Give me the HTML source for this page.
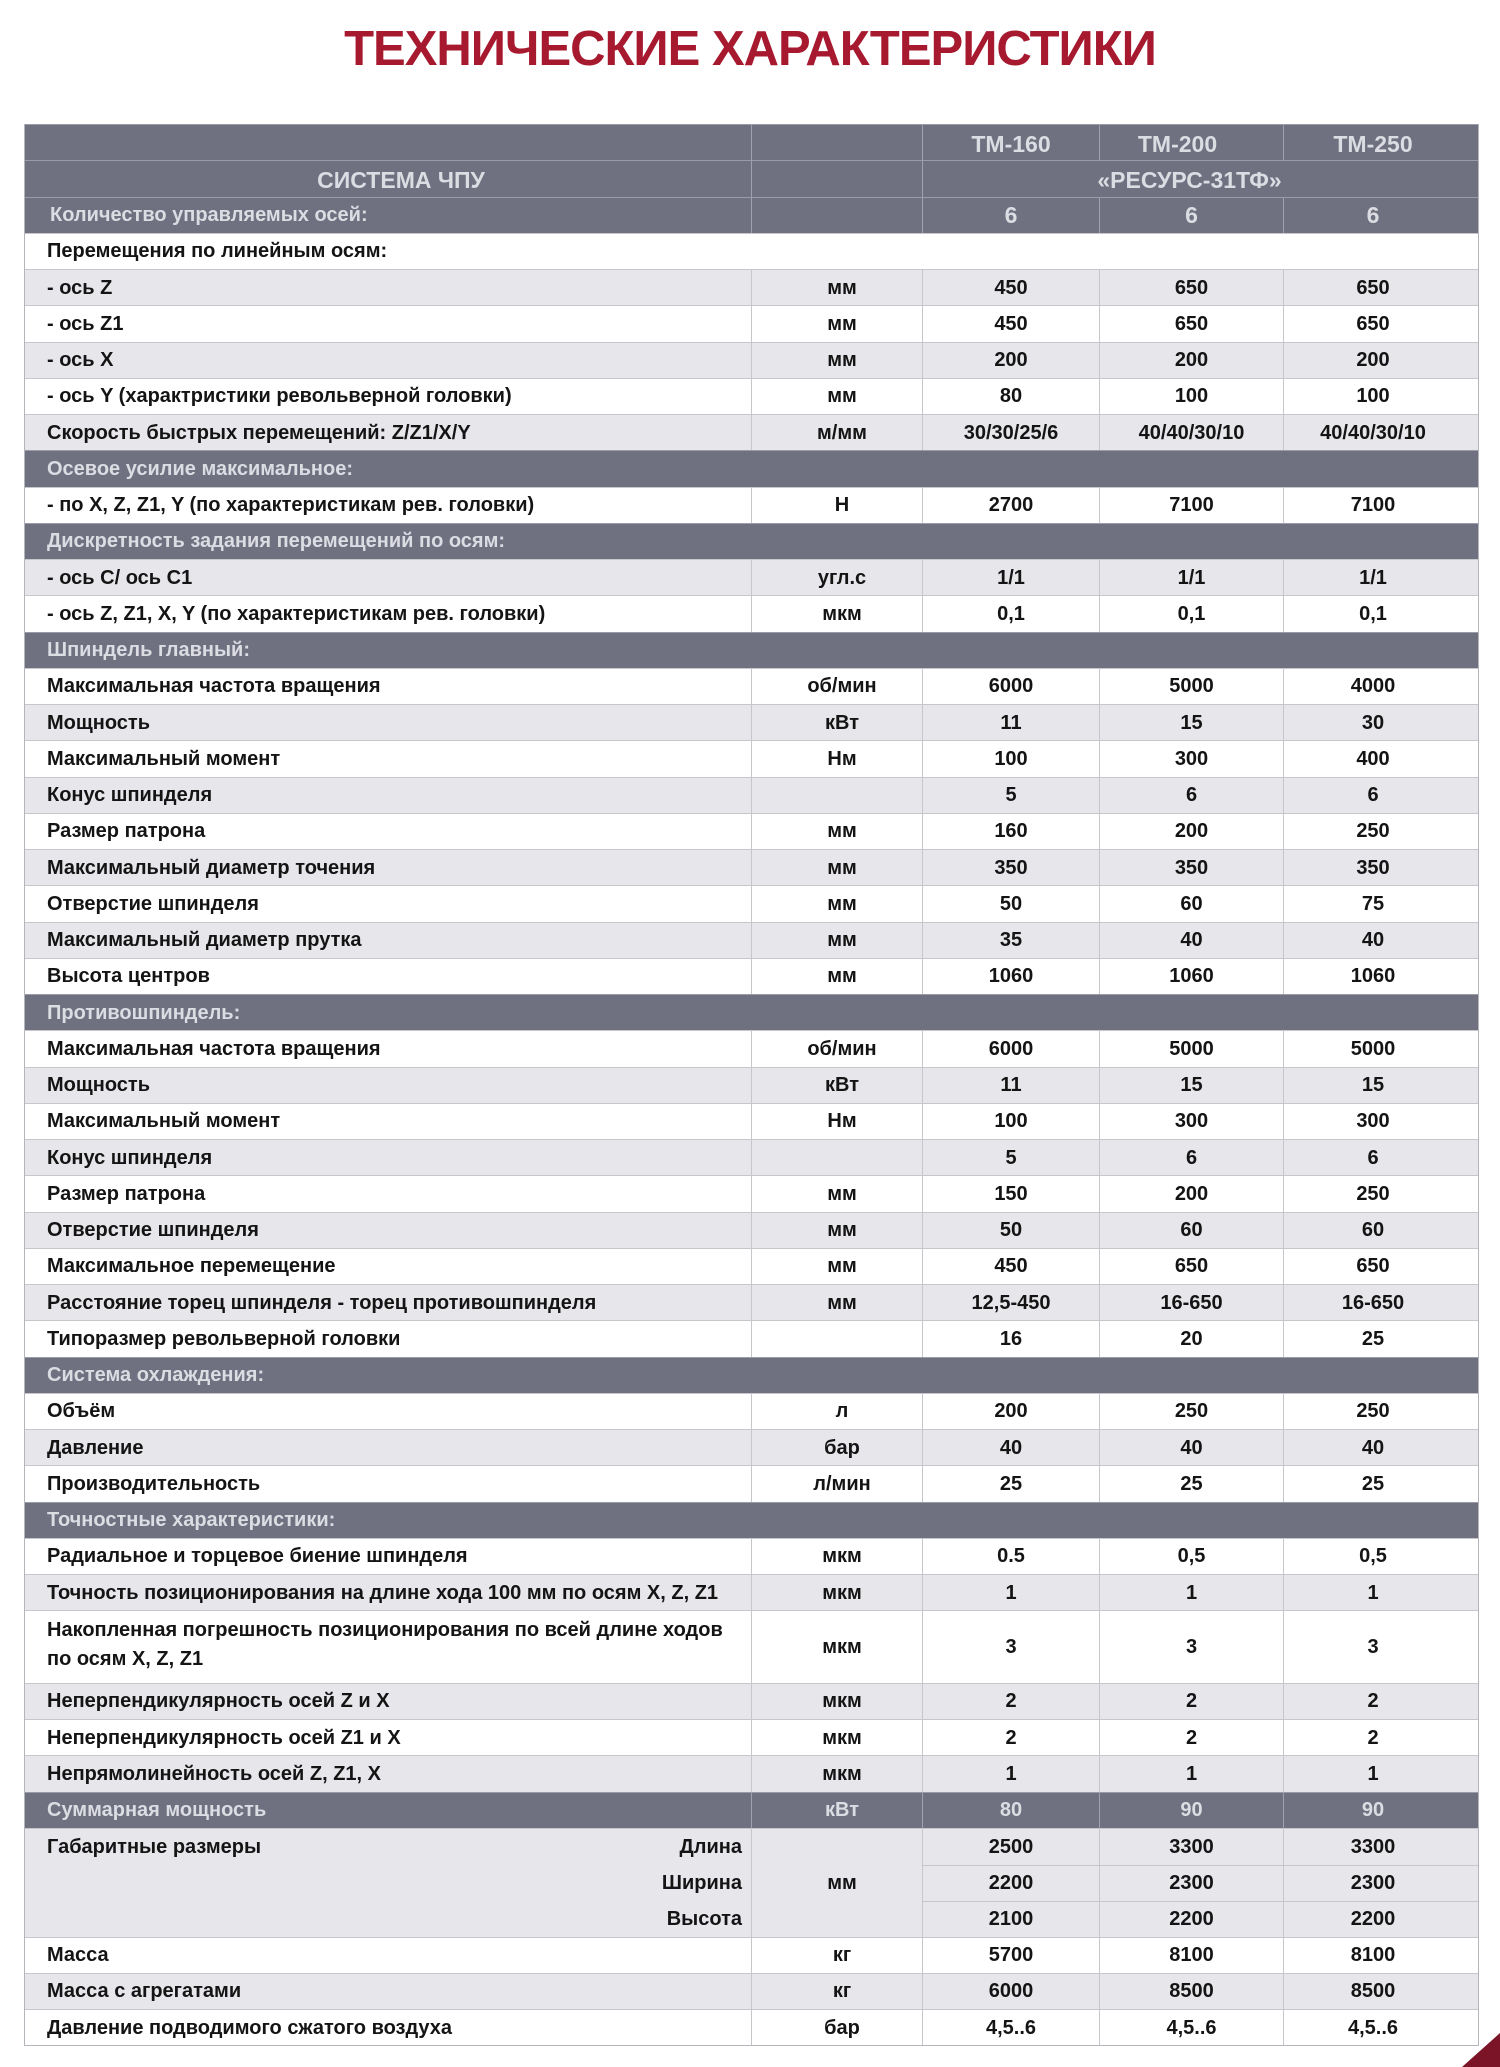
<!DOCTYPE html>
<html>
<head>
<meta charset="utf-8">
<style>
html,body{margin:0;padding:0;}
body{width:1500px;height:2067px;background:#fff;position:relative;overflow:hidden;font-family:"Liberation Sans",Arial,sans-serif;font-weight:bold;}
.title{position:absolute;top:25px;left:0;width:1500px;text-align:center;font-size:49px;line-height:49px;color:#a6192e;letter-spacing:-1px;white-space:nowrap;}
.tbl{position:absolute;left:24px;top:124px;width:1455px;box-sizing:border-box;border-left:1px solid #b4b4ba;border-right:1px solid #b4b4ba;border-bottom:1px solid #b4b4ba;}
.r{display:grid;grid-template-columns:726px 171px 177px 184px 195px;height:36.26px;box-sizing:border-box;border-top:1px solid #c6c6cb;font-size:20px;color:#141414;}
.r>div{display:flex;align-items:center;justify-content:center;padding-top:1px;box-sizing:border-box;white-space:nowrap;min-width:0;}
.r>div+div{border-left:1px solid #c6c6cb;}
.r>div:first-child{justify-content:flex-start;padding-left:22px;}
.r>div.u{padding-left:10px;}
.r>div.c5{padding-right:16px;}
.w{background:#fff;}
.g{background:#e7e7eb;}
.d{background:#6f7181;color:#dcdce3;border-top-color:#9a9caa;}
.d>div+div{border-left-color:#9fa1ae;}
.s{height:36.26px;box-sizing:border-box;border-top:1px solid #9a9caa;background:#6f7181;color:#dcdce3;font-size:20px;display:flex;align-items:center;padding-left:22px;padding-top:1px;white-space:nowrap;}
.fw{height:36.26px;box-sizing:border-box;border-top:1px solid #c6c6cb;background:#fff;color:#141414;font-size:20px;display:flex;align-items:center;padding-left:22px;padding-top:1px;white-space:nowrap;}
.h{font-size:23px;}
.h>div{padding-top:4px;}
.r2{height:72.52px;}
.r2>div.txt{display:block;white-space:nowrap;line-height:29px;padding-top:5px;}
.r3{height:108.78px;}
.r3>div.sub{display:grid;grid-template-rows:1fr 1fr 1fr;padding:0;align-items:stretch;justify-content:stretch;}
.r3>div.sub>div{display:flex;align-items:center;justify-content:center;padding-top:1px;}
.r3>div.sub>div+div{border-top:1px solid #c6c6cb;}
.r3>div.sub.c5>div{padding-right:16px;}
.r3>div.lab{display:grid;grid-template-rows:1fr 1fr 1fr;padding:0 9px 0 22px;align-items:stretch;justify-content:stretch;}
.r3>div.lab>div{display:flex;align-items:center;justify-content:space-between;padding-top:1px;}
.tri{position:absolute;left:0;top:0;}
</style>
</head>
<body>
<div class="title">ТЕХНИЧЕСКИЕ ХАРАКТЕРИСТИКИ</div>

<div class="tbl">
  <div class="r d h"><div></div><div class="u"></div><div>ТМ-160</div><div style="padding-right:28px">ТМ-200</div><div class="c5">ТМ-250</div></div>
  <div class="r d h"><div style="justify-content:center;padding-left:26px">СИСТЕМА ЧПУ</div><div class="u"></div><div style="grid-column:3 / 6;padding-right:22px">«РЕСУРС-31ТФ»</div></div>
  <div class="r d"><div style="padding-left:25px">Количество управляемых осей:</div><div class="u"></div><div style="font-size:23px">6</div><div style="font-size:23px">6</div><div class="c5" style="font-size:23px">6</div></div>
  <div class="fw">Перемещения по линейным осям:</div>
  <div class="r g"><div>- ось Z</div><div class="u">мм</div><div>450</div><div>650</div><div class="c5">650</div></div>
  <div class="r w"><div>- ось Z1</div><div class="u">мм</div><div>450</div><div>650</div><div class="c5">650</div></div>
  <div class="r g"><div>- ось X</div><div class="u">мм</div><div>200</div><div>200</div><div class="c5">200</div></div>
  <div class="r w"><div>- ось Y (характристики револьверной головки)</div><div class="u">мм</div><div>80</div><div>100</div><div class="c5">100</div></div>
  <div class="r g"><div>Скорость быстрых перемещений: Z/Z1/X/Y</div><div class="u">м/мм</div><div>30/30/25/6</div><div>40/40/30/10</div><div class="c5">40/40/30/10</div></div>
  <div class="s">Осевое усилие максимальное:</div>
  <div class="r w"><div>- по X, Z, Z1, Y (по характеристикам рев. головки)</div><div class="u">Н</div><div>2700</div><div>7100</div><div class="c5">7100</div></div>
  <div class="s">Дискретность задания перемещений по осям:</div>
  <div class="r g"><div>- ось С/ ось С1</div><div class="u">угл.с</div><div>1/1</div><div>1/1</div><div class="c5">1/1</div></div>
  <div class="r w"><div>- ось Z, Z1, X, Y (по характеристикам рев. головки)</div><div class="u">мкм</div><div>0,1</div><div>0,1</div><div class="c5">0,1</div></div>
  <div class="s">Шпиндель главный:</div>
  <div class="r w"><div>Максимальная частота вращения</div><div class="u">об/мин</div><div>6000</div><div>5000</div><div class="c5">4000</div></div>
  <div class="r g"><div>Мощность</div><div class="u">кВт</div><div>11</div><div>15</div><div class="c5">30</div></div>
  <div class="r w"><div>Максимальный момент</div><div class="u">Нм</div><div>100</div><div>300</div><div class="c5">400</div></div>
  <div class="r g"><div>Конус шпинделя</div><div class="u"></div><div>5</div><div>6</div><div class="c5">6</div></div>
  <div class="r w"><div>Размер патрона</div><div class="u">мм</div><div>160</div><div>200</div><div class="c5">250</div></div>
  <div class="r g"><div>Максимальный диаметр точения</div><div class="u">мм</div><div>350</div><div>350</div><div class="c5">350</div></div>
  <div class="r w"><div>Отверстие шпинделя</div><div class="u">мм</div><div>50</div><div>60</div><div class="c5">75</div></div>
  <div class="r g"><div>Максимальный диаметр прутка</div><div class="u">мм</div><div>35</div><div>40</div><div class="c5">40</div></div>
  <div class="r w"><div>Высота центров</div><div class="u">мм</div><div>1060</div><div>1060</div><div class="c5">1060</div></div>
  <div class="s">Противошпиндель:</div>
  <div class="r w"><div>Максимальная частота вращения</div><div class="u">об/мин</div><div>6000</div><div>5000</div><div class="c5">5000</div></div>
  <div class="r g"><div>Мощность</div><div class="u">кВт</div><div>11</div><div>15</div><div class="c5">15</div></div>
  <div class="r w"><div>Максимальный момент</div><div class="u">Нм</div><div>100</div><div>300</div><div class="c5">300</div></div>
  <div class="r g"><div>Конус шпинделя</div><div class="u"></div><div>5</div><div>6</div><div class="c5">6</div></div>
  <div class="r w"><div>Размер патрона</div><div class="u">мм</div><div>150</div><div>200</div><div class="c5">250</div></div>
  <div class="r g"><div>Отверстие шпинделя</div><div class="u">мм</div><div>50</div><div>60</div><div class="c5">60</div></div>
  <div class="r w"><div>Максимальное перемещение</div><div class="u">мм</div><div>450</div><div>650</div><div class="c5">650</div></div>
  <div class="r g"><div>Расстояние торец шпинделя - торец противошпинделя</div><div class="u">мм</div><div>12,5-450</div><div>16-650</div><div class="c5">16-650</div></div>
  <div class="r w"><div>Типоразмер револьверной головки</div><div class="u"></div><div>16</div><div>20</div><div class="c5">25</div></div>
  <div class="s">Система охлаждения:</div>
  <div class="r w"><div>Объём</div><div class="u">л</div><div>200</div><div>250</div><div class="c5">250</div></div>
  <div class="r g"><div>Давление</div><div class="u">бар</div><div>40</div><div>40</div><div class="c5">40</div></div>
  <div class="r w"><div>Производительность</div><div class="u">л/мин</div><div>25</div><div>25</div><div class="c5">25</div></div>
  <div class="s">Точностные характеристики:</div>
  <div class="r w"><div>Радиальное и торцевое биение шпинделя</div><div class="u">мкм</div><div>0.5</div><div>0,5</div><div class="c5">0,5</div></div>
  <div class="r g"><div>Точность позиционирования на длине хода 100 мм по осям X, Z, Z1</div><div class="u">мкм</div><div>1</div><div>1</div><div class="c5">1</div></div>
  <div class="r w r2"><div class="txt">Накопленная погрешность позиционирования по всей длине ходов<br>по осям X, Z, Z1</div><div class="u">мкм</div><div>3</div><div>3</div><div class="c5">3</div></div>
  <div class="r g"><div>Неперпендикулярность осей Z и X</div><div class="u">мкм</div><div>2</div><div>2</div><div class="c5">2</div></div>
  <div class="r w"><div>Неперпендикулярность осей Z1 и X</div><div class="u">мкм</div><div>2</div><div>2</div><div class="c5">2</div></div>
  <div class="r g"><div>Непрямолинейность осей Z, Z1, X</div><div class="u">мкм</div><div>1</div><div>1</div><div class="c5">1</div></div>
  <div class="r d"><div>Суммарная мощность</div><div class="u">кВт</div><div>80</div><div>90</div><div class="c5">90</div></div>
  <div class="r g r3">
    <div class="lab"><div><span>Габаритные размеры</span><span>Длина</span></div><div><span></span><span>Ширина</span></div><div><span></span><span>Высота</span></div></div>
    <div class="u">мм</div>
    <div class="sub"><div>2500</div><div>2200</div><div>2100</div></div>
    <div class="sub"><div>3300</div><div>2300</div><div>2200</div></div>
    <div class="sub c5"><div>3300</div><div>2300</div><div>2200</div></div>
  </div>
  <div class="r w"><div>Масса</div><div class="u">кг</div><div>5700</div><div>8100</div><div class="c5">8100</div></div>
  <div class="r g"><div>Масса с агрегатами</div><div class="u">кг</div><div>6000</div><div>8500</div><div class="c5">8500</div></div>
  <div class="r w"><div>Давление подводимого сжатого воздуха</div><div class="u">бар</div><div>4,5..6</div><div>4,5..6</div><div class="c5">4,5..6</div></div>
</div>

<svg class="tri" width="1500" height="2067" viewBox="0 0 1500 2067">
  <polygon points="1462,2067 1500,2033 1500,2067" fill="#7a1426"/>
</svg>
</body>
</html>
